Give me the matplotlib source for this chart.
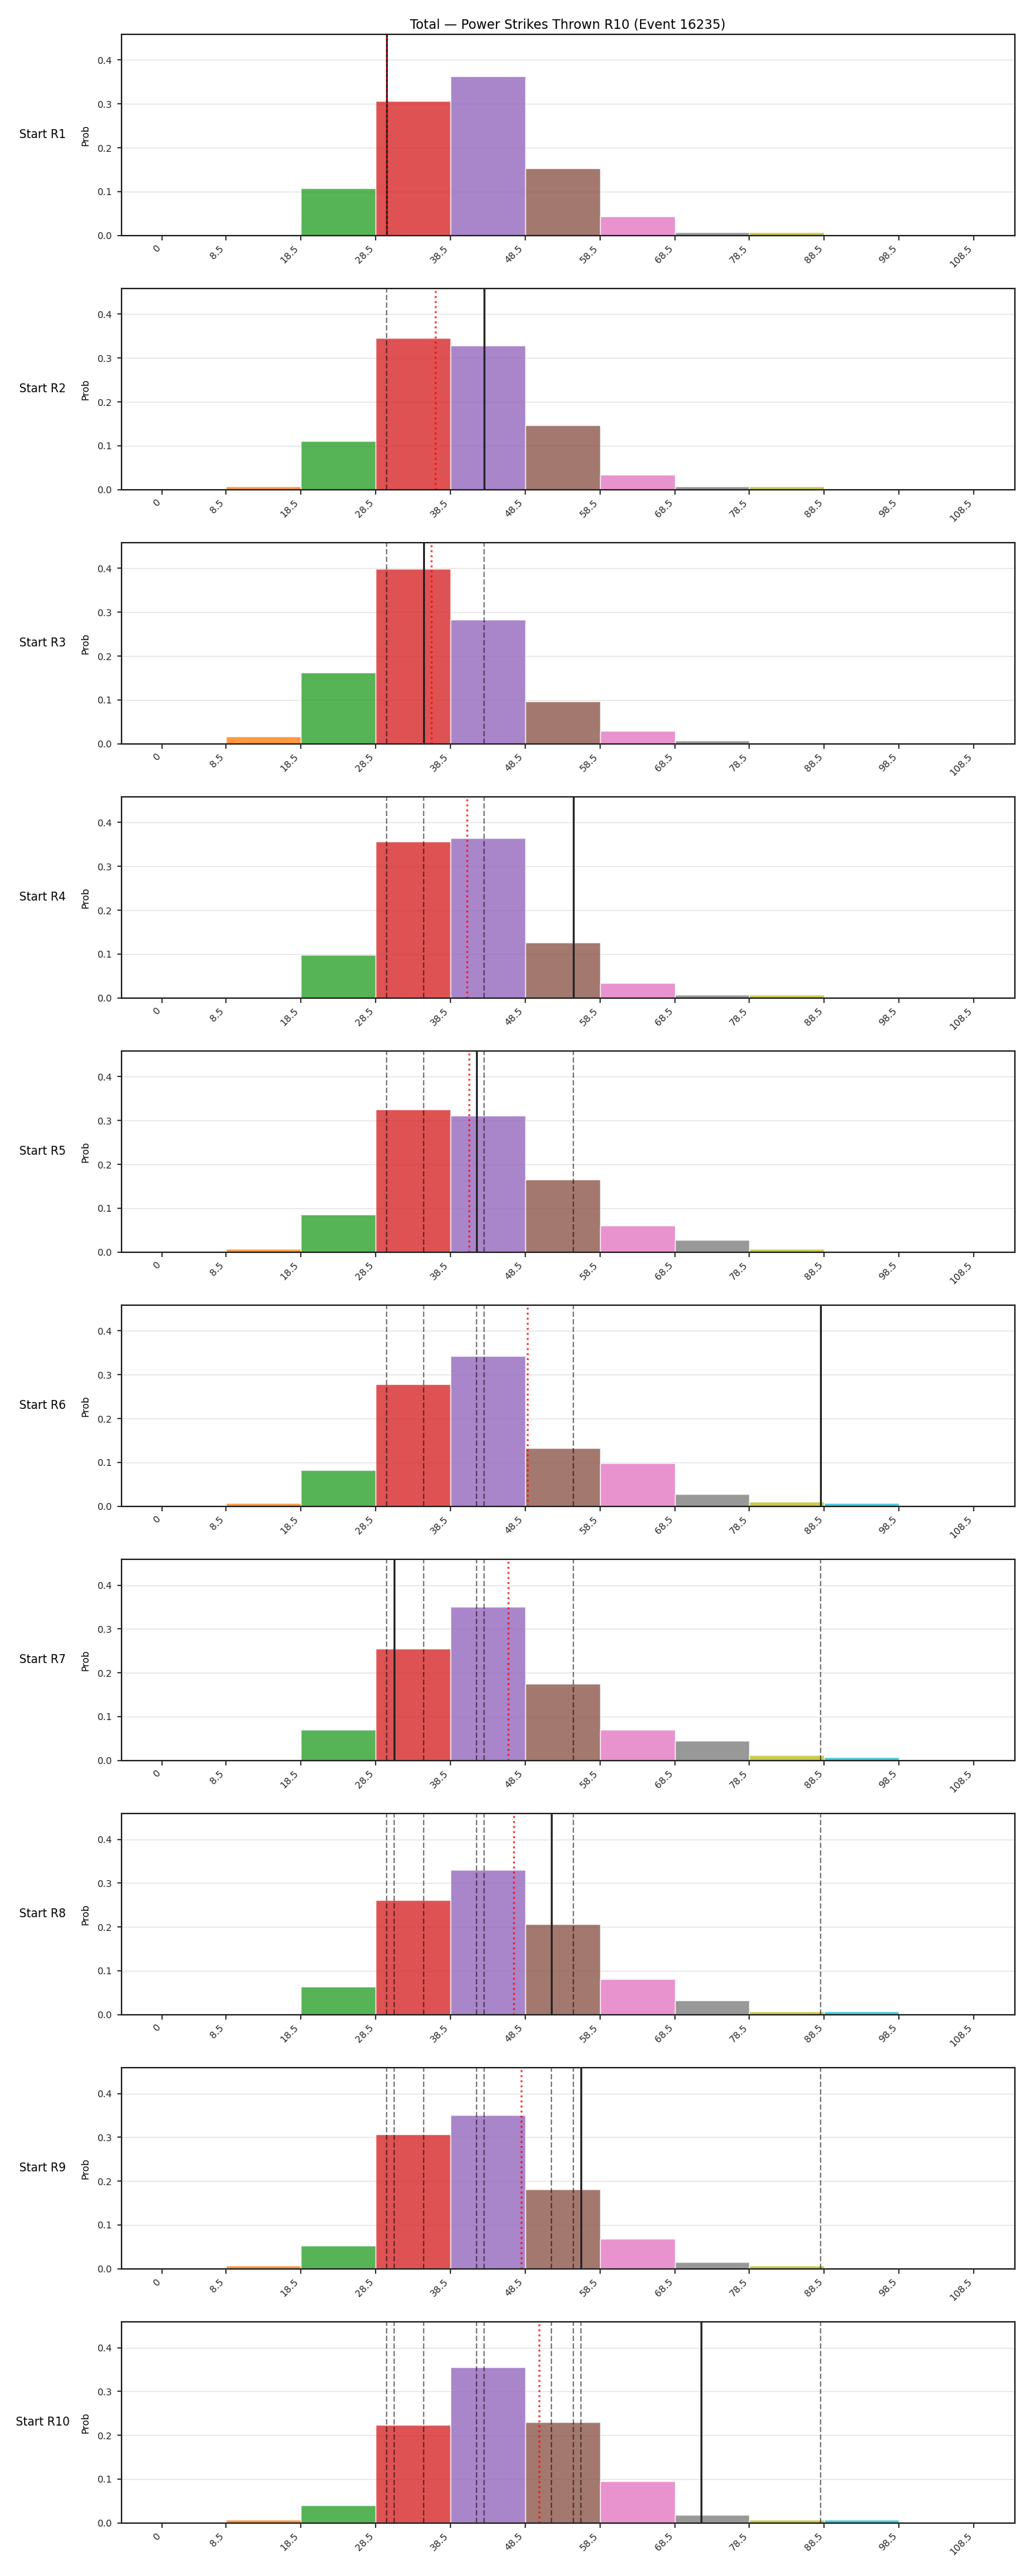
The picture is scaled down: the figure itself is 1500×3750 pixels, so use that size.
import numpy as np
import matplotlib
matplotlib.use("Agg")
import matplotlib.pyplot as plt

# Bin edges used for the strike totals (ticks sit on the edges)
edges = [0, 8.5, 18.5, 28.5, 38.5, 48.5, 58.5, 68.5, 78.5, 88.5, 98.5, 108.5]

# Probability per bin, one row per starting round
probs_r1 = [0, 0, 0.108, 0.307, 0.363, 0.153, 0.043, 0.008, 0.007, 0, 0]
probs_r2 = [0, 0.007, 0.110, 0.346, 0.329, 0.147, 0.034, 0.007, 0.007, 0, 0]
probs_r3 = [0, 0.016, 0.163, 0.399, 0.283, 0.096, 0.030, 0.008, 0, 0, 0]
probs_r4 = [0, 0, 0.098, 0.357, 0.364, 0.126, 0.034, 0.008, 0.008, 0, 0]
probs_r5 = [0, 0.008, 0.086, 0.326, 0.312, 0.165, 0.060, 0.028, 0.008, 0, 0]
probs_r6 = [0, 0.008, 0.082, 0.278, 0.343, 0.132, 0.099, 0.028, 0.010, 0.008, 0]
probs_r7 = [0, 0, 0.070, 0.255, 0.350, 0.175, 0.070, 0.045, 0.012, 0.008, 0]
probs_r8 = [0, 0, 0.064, 0.262, 0.330, 0.206, 0.081, 0.032, 0.008, 0.008, 0]
probs_r9 = [0, 0.008, 0.053, 0.307, 0.350, 0.181, 0.069, 0.016, 0.008, 0, 0]
probs_r10 = [0, 0.008, 0.040, 0.224, 0.355, 0.230, 0.095, 0.019, 0.008, 0.008, 0]
probs = [probs_r1, probs_r2, probs_r3, probs_r4, probs_r5,
         probs_r6, probs_r7, probs_r8, probs_r9, probs_r10]

# Line posted at the start of each round
lines = [30, 43, 35, 55, 42, 88, 31, 52, 56, 72]
round_labels = ["Start R%d" % (i + 1) for i in range(len(probs))]

title = "Total \u2014 Power Strikes Thrown R10 (Event 16235)"

plt.rcParams["axes.linewidth"] = 1.5
plt.rcParams["axes.edgecolor"] = "#262626"
plt.rcParams["xtick.major.width"] = 1.25
plt.rcParams["ytick.major.width"] = 1.25
plt.rcParams["xtick.major.size"] = 5
plt.rcParams["ytick.major.size"] = 4.5
plt.rcParams["ytick.major.pad"] = 5.5
plt.rcParams["xtick.color"] = "#262626"
plt.rcParams["ytick.color"] = "#262626"

colors = plt.rcParams["axes.prop_cycle"].by_key()["color"]
widths = np.diff(edges)
ymax = max(max(p) for p in probs) * 1.15

fig, axes = plt.subplots(len(probs), 1, figsize=(15, 37.5), dpi=100)
fig.subplots_adjust(left=0.118, right=0.985, top=0.9867, bottom=0.0206, hspace=0.264)

for i, ax in enumerate(axes):
    ax.set_axisbelow(True)
    ax.bar(edges[:-1], probs[i], width=widths, align="edge",
           color=[colors[k % 10] for k in range(len(widths))],
           alpha=0.8, edgecolor="white", linewidth=1)
    # earlier lines dashed, current line solid, running mean dotted red
    for v in lines[:i]:
        ax.axvline(v, color="black", alpha=0.5, linestyle="--", linewidth=1.5)
    ax.axvline(lines[i], color="#222222", linewidth=2)
    ax.axvline(np.mean(lines[:i + 1]), color="red", alpha=0.8, linestyle=":", linewidth=2)

    ax.set_ylim(0, ymax)
    ax.set_xticks(edges)
    ax.set_xticklabels([("%g" % e) for e in edges], rotation=45, ha="right")
    ax.grid(axis="y", color="#e3e3e3", linewidth=1)
    ax.set_ylabel("Prob", labelpad=7)
    ax.text(-0.0884, 0.5, round_labels[i], transform=ax.transAxes,
            ha="center", va="center", fontsize=12)

axes[0].set_title(title, fontsize=13.5)

fig.savefig("out.png", dpi=100)
